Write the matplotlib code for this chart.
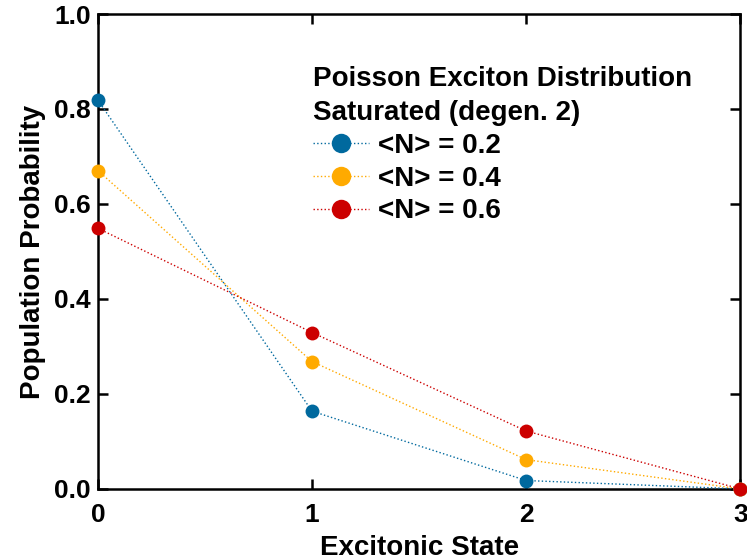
import matplotlib.pyplot as plt

plt.rcParams['font.family'] = ['Liberation Sans', 'DejaVu Sans']
plt.rcParams['font.weight'] = 'bold'

states = [0, 1, 2, 3]
series_labels = ['<N> = 0.2', '<N> = 0.4', '<N> = 0.6']
prob_02 = [0.8187, 0.1637, 0.0176, 0.0]
prob_04 = [0.6703, 0.2681, 0.0616, 0.0]
prob_06 = [0.5488, 0.3293, 0.1219, 0.0]
colors = ['#00699e', '#ffaa00', '#cc0000']

fig = plt.figure(figsize=(7.47, 5.6), dpi=100)
ax = fig.add_axes([0.131, 0.127, 0.860, 0.848])

for probs, lab, c in zip([prob_02, prob_04, prob_06], series_labels, colors):
    ax.plot(states, probs, linestyle=':', linewidth=1.0, color=c,
            marker='o', markersize=10, markeredgewidth=0, label=lab,
            clip_on=False, zorder=3)

ax.set_xlim(0, 3)
ax.set_ylim(0, 1.0)
ax.set_xticks([0, 1, 2, 3])
ax.set_yticks([0.0, 0.2, 0.4, 0.6, 0.8, 1.0])
ax.set_yticklabels(['0.0', '0.2', '0.4', '0.6', '0.8', '1.0'])

for s in ax.spines.values():
    s.set_linewidth(1.8)
ax.tick_params(direction='in', length=7, width=1.8, labelsize=19,
               top=True, right=True)
ax.tick_params(axis='x', pad=10)
ax.tick_params(axis='y', pad=5)
for lbl in ax.get_xticklabels() + ax.get_yticklabels():
    lbl.set_fontweight('bold')

ax.set_xlabel('Excitonic State', fontsize=20, fontweight='bold', labelpad=6)
ax.set_ylabel('Population Probability', fontsize=20, fontweight='bold', labelpad=6)

leg = ax.legend(title='Poisson Exciton Distribution\nSaturated (degen. 2)',
                loc='upper left', bbox_to_anchor=(0.3053, 0.9305), frameon=False,
                fontsize=20, title_fontproperties={'size': 20, 'weight': 'bold'},
                handlelength=2.0, handletextpad=0.32, labelspacing=0.24,
                markerscale=1.4, borderpad=0.2)
leg._legend_box.align = 'left'
leg.get_title().set_linespacing(1.4)
for t in leg.get_texts():
    t.set_fontweight('bold')

fig.savefig('out.png', dpi=100)
